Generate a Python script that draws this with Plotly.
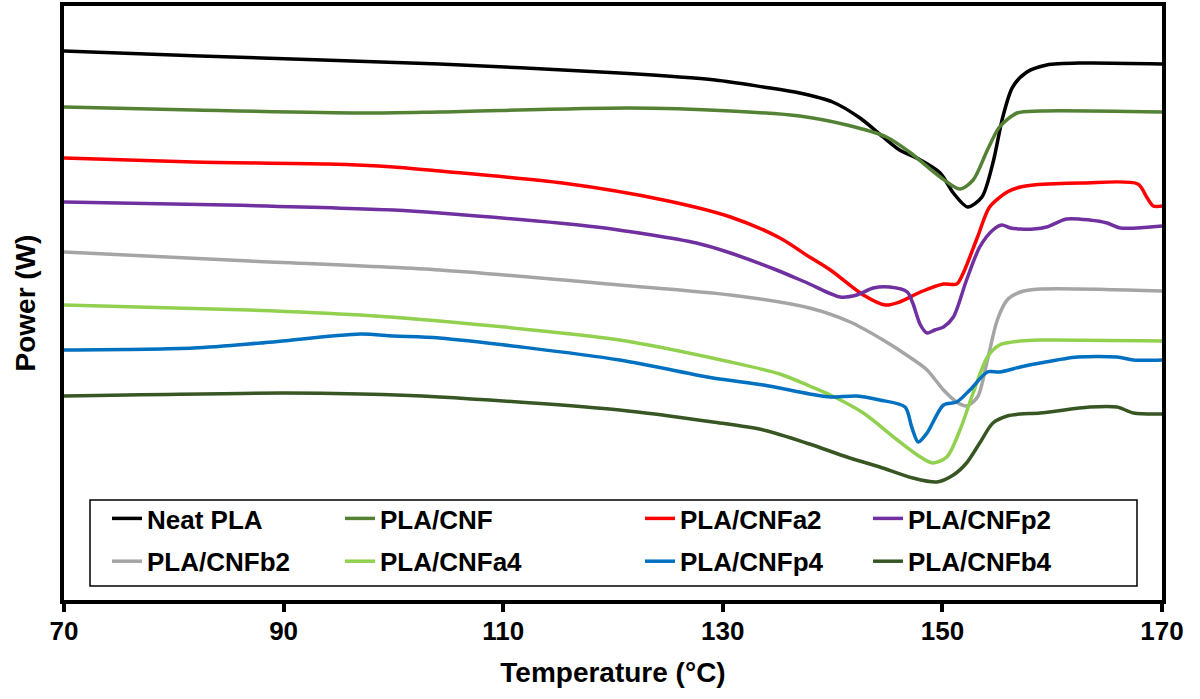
import plotly.graph_objects as go

# ---- data (Temperature °C, Power in arbitrary units) ----
neat_T = [70, 82.4, 104.2, 120.6, 129.3, 133.7, 137.0, 140.0, 142.5, 144.6, 146.1, 148.0, 149.8, 151.0, 152.3, 153.6, 154.6, 155.5, 156.4, 157.7, 159.5, 162.8, 170]
neat_P = [54.9, 54.4, 53.6, 52.7, 52.0, 51.3, 50.7, 49.8, 48.2, 46.3, 45.0, 44.0, 42.7, 40.7, 39.3, 40.3, 43.7, 48.3, 51.3, 52.8, 53.5, 53.7, 53.6]

cnf_T = [70, 81.8, 97, 104.2, 121.5, 130.7, 137.0, 141.3, 144.9, 147.0, 149.8, 151.6, 152.8, 154.1, 155.2, 156.8, 158.9, 170]
cnf_P = [49.3, 49.0, 48.7, 48.8, 49.2, 48.9, 48.4, 47.5, 46.3, 44.8, 42.3, 41.1, 42.0, 45.0, 47.3, 48.7, 48.9, 48.8]

a2_T = [70, 81.8, 94, 100, 104.2, 115.4, 124.6, 130.7, 135.2, 137.9, 139.8, 142.8, 144.8, 146.1, 148.0, 150.1, 151.3, 151.9, 153.2, 154.3, 155.9, 157.1, 158.3, 162.8, 167.8, 168.6, 169.2, 170]
a2_P = [44.2, 43.8, 43.6, 43.3, 42.9, 41.7, 40.0, 38.3, 36.2, 34.3, 33.0, 30.5, 29.5, 29.8, 30.8, 31.6, 31.6, 32.7, 36.3, 39.3, 40.8, 41.3, 41.5, 41.7, 41.6, 40.3, 39.4, 39.4]

p2_T = [70, 84.8, 100, 104.2, 118.5, 127.6, 130.7, 134.9, 137.7, 140.7, 142.2, 143.7, 145.2, 146.8, 147.3, 148.0, 148.6, 149.3, 150.1, 151.0, 152.2, 153.4, 154.6, 155.4, 156.2, 157.1, 158.3, 159.5, 161.3, 163.4, 165.0, 166.2, 170]
p2_P = [39.8, 39.5, 39.0, 38.7, 37.3, 35.7, 34.7, 33.0, 31.7, 30.3, 30.5, 31.2, 31.3, 30.8, 29.7, 27.5, 26.7, 27.0, 27.3, 28.3, 32.0, 35.3, 37.0, 37.5, 37.2, 37.1, 37.1, 37.3, 38.1, 38.0, 37.7, 37.2, 37.4]

b2_T = [70, 86.9, 104.2, 120.6, 130.7, 137.9, 141.6, 144.6, 147.0, 148.6, 150.1, 151.3, 152.2, 153.2, 154.1, 155.0, 155.9, 157.1, 158.9, 170]
b2_P = [34.8, 33.9, 33.0, 31.5, 30.5, 29.2, 27.8, 26.0, 24.3, 23.0, 21.0, 19.8, 19.4, 20.3, 24.0, 28.0, 30.0, 30.8, 31.1, 30.9]

a4_T = [70, 86.9, 97, 104.2, 120.6, 130.7, 135.2, 137.9, 139.8, 142.8, 145.9, 148.0, 149.1, 150.4, 151.6, 152.8, 154.1, 155.2, 157.1, 158.9, 170]
a4_P = [29.5, 29.0, 28.5, 27.9, 26.0, 23.8, 22.6, 21.4, 20.5, 18.7, 16.0, 14.3, 13.7, 14.3, 17.0, 20.7, 24.3, 25.5, 25.9, 26.0, 25.9]

p4_T = [70, 81.8, 87.9, 97, 100, 104.2, 120.6, 129.1, 133.7, 137.9, 139.8, 142.2, 144.3, 146.6, 147.2, 147.8, 148.6, 150.1, 151.3, 152.5, 154.1, 155.2, 157.1, 158.9, 162.3, 165.9, 167.4, 170]
p4_P = [25.0, 25.2, 25.7, 26.6, 26.4, 26.2, 24.0, 22.2, 21.5, 20.6, 20.3, 20.4, 20.0, 19.3, 17.3, 15.8, 16.7, 19.5, 19.8, 21.0, 22.8, 22.8, 23.3, 23.7, 24.3, 24.3, 24.0, 24.0]

b4_T = [70, 89.9, 97, 104.2, 120.6, 129.1, 133.7, 137.9, 141.3, 144.3, 147.3, 149.5, 151.0, 152.2, 153.4, 154.6, 155.9, 157.1, 158.9, 163.4, 165.9, 167.4, 170]
b4_P = [20.4, 20.7, 20.6, 20.3, 19.0, 17.8, 17.0, 15.6, 14.3, 13.3, 12.2, 11.8, 12.5, 13.7, 15.7, 17.7, 18.4, 18.6, 18.7, 19.3, 19.3, 18.7, 18.6]

x_ticks = [70, 90, 110, 130, 150, 170]

series = [
    ("Neat PLA", neat_T, neat_P, "#000000", "legend"),
    ("PLA/CNF", cnf_T, cnf_P, "#548235", "legend2"),
    ("PLA/CNFa2", a2_T, a2_P, "#FF0000", "legend3"),
    ("PLA/CNFp2", p2_T, p2_P, "#7030A0", "legend4"),
    ("PLA/CNFb2", b2_T, b2_P, "#A5A5A5", "legend"),
    ("PLA/CNFa4", a4_T, a4_P, "#92D050", "legend2"),
    ("PLA/CNFp4", p4_T, p4_P, "#0070C0", "legend3"),
    ("PLA/CNFb4", b4_T, b4_P, "#375623", "legend4"),
]

FONT = "Arial, Liberation Sans, sans-serif"

fig = go.Figure()
for name, T, P, col, lg in series:
    fig.add_trace(go.Scatter(
        x=T, y=P, mode="lines", name=name, legend=lg, legendgroup=name,
        line=dict(color=col, width=3.5, shape="spline", smoothing=0.8),
    ))

W, H = 1200, 699
L, R, TOP, B = 64, 38, 6, 99
pw = W - L - R
ph = H - TOP - B

def lx(px):
    return (px - L) / pw

def ly(py):
    return (H - B - py) / ph

legend_common = dict(
    xanchor="left", yanchor="top", bgcolor="rgba(0,0,0,0)", borderwidth=0,
    font=dict(family=FONT, size=26, color="black", weight="bold"),
    traceorder="grouped", tracegroupgap=6, orientation="v",
)
text_px = [147, 380, 680, 908]
legs = {}
for i, key in enumerate(["legend", "legend2", "legend3", "legend4"]):
    legs[key] = dict(legend_common, x=lx(text_px[i] - 40), y=ly(495))

fig.update_layout(
    width=W, height=H,
    margin=dict(l=L, r=R, t=TOP, b=B),
    paper_bgcolor="white", plot_bgcolor="white",
    showlegend=True,
    **legs,
    xaxis=dict(
        range=[70, 170], tickvals=x_ticks, ticktext=[str(v) for v in x_ticks],
        ticks="outside", ticklen=8, tickwidth=3.5, tickcolor="black",
        showline=True, linewidth=3.5, linecolor="black", mirror=True,
        showgrid=False, zeroline=False, ticklabelstandoff=-3,
        tickfont=dict(family=FONT, size=26, color="black", weight="bold"),
        title=dict(text="Temperature (°C)", standoff=18,
                   font=dict(family=FONT, size=28, color="black", weight="bold")),
        automargin=False,
    ),
    yaxis=dict(
        range=[0, 59.4], showticklabels=False, ticks="",
        showline=True, linewidth=3.5, linecolor="black", mirror=True,
        showgrid=False, zeroline=False,
        title=dict(text="Power (W)", standoff=17,
                   font=dict(family=FONT, size=28, color="black", weight="bold")),
        automargin=False,
    ),
    shapes=[dict(type="rect", xref="paper", yref="paper",
                 x0=lx(90), x1=lx(1137), y0=ly(586), y1=ly(500),
                 line=dict(color="black", width=1.5), fillcolor="rgba(0,0,0,0)")],
)

fig.write_html("out.html", config={"displayModeBar": False},
               post_script="document.body.style.margin='0px';")
